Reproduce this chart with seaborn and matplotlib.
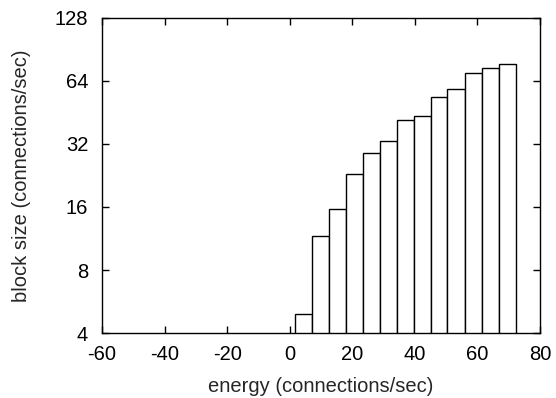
import matplotlib
matplotlib.use("Agg")
import matplotlib.pyplot as plt
import seaborn as sns
import numpy as np
from matplotlib.ticker import FixedLocator, FixedFormatter, NullLocator

centers = [4.35, 9.8, 15.25, 20.65, 26.15, 31.55, 36.95, 42.35, 47.7, 53.2, 58.7, 64.15, 69.65]
heights = [4.93, 11.6, 15.6, 23.0, 28.9, 33.1, 41.6, 43.2, 53.6, 58.1, 69.7, 73.2, 77.0]
bar_width = 5.44
x_ticks = [-60, -40, -20, 0, 20, 40, 60, 80]
y_ticks = [4, 8, 16, 32, 64, 128]
x_label = "energy (connections/sec)"
y_label = "block size (connections/sec)"

sns.set_style("ticks")
plt.rcParams['font.family'] = ['Liberation Sans', 'DejaVu Sans']

fig = plt.figure(figsize=(5.56, 3.98), dpi=100)
ax = fig.add_axes([0.1835, 0.1626, 0.9712 - 0.1835, 0.956 - 0.1626])

edges = [centers[0] - bar_width / 2] + [c + bar_width / 2 for c in centers]
sns.histplot(x=centers, weights=heights, bins=edges, ax=ax, color="white",
             edgecolor="black", linewidth=1.0, alpha=1.0)

ax.set_yscale("log", base=2)
ax.set_xlim(-60, 80)
ax.set_ylim(4, 128)
ax.yaxis.set_major_locator(FixedLocator(y_ticks))
ax.yaxis.set_major_formatter(FixedFormatter([str(v) for v in y_ticks]))
ax.yaxis.set_minor_locator(NullLocator())
ax.set_xticks(x_ticks)
ax.set_xticklabels([str(v) for v in x_ticks])

for s in ax.spines.values():
    s.set_visible(True)
    s.set_linewidth(1.0)
    s.set_color("black")
ax.tick_params(axis="both", which="major", direction="in", length=5, width=1,
               top=True, right=True, labelsize=14.5, colors="black")
ax.tick_params(axis="y", pad=10)
ax.tick_params(axis="x", pad=8.5)
ax.set_xlabel(x_label, fontsize=14.5, labelpad=9)
ax.set_ylabel(y_label, fontsize=14.5, labelpad=17)

fig.savefig("out.png", dpi=100)
